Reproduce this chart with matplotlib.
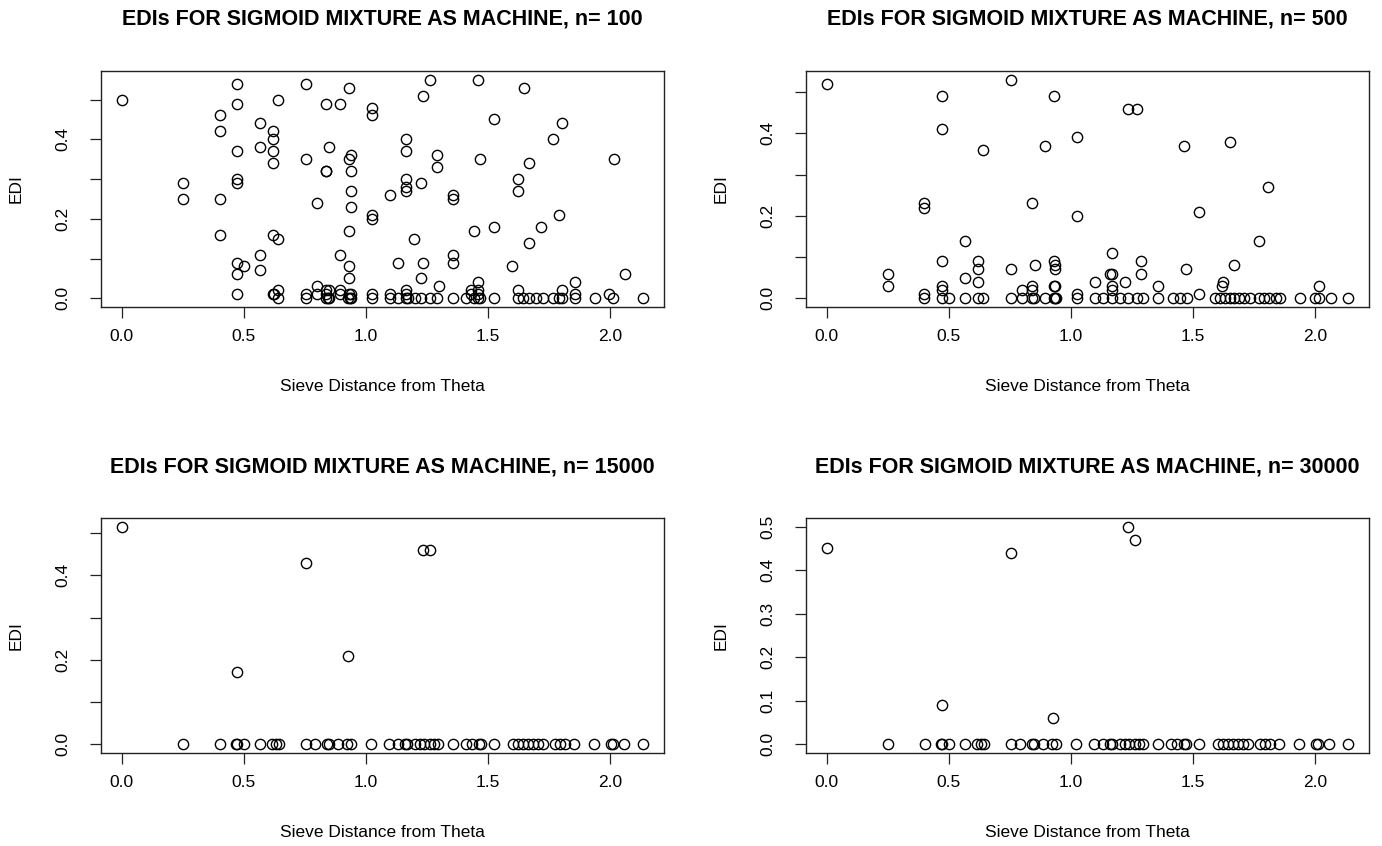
import matplotlib
matplotlib.use("Agg")
import matplotlib.pyplot as plt
import numpy as np

# ---------------- data ----------------
sample_sizes = [100, 500, 15000, 30000]

# n = 100 : points with EDI > 0 (x, y) and points at EDI = 0
x_n100 = [0.0, 0.25, 0.25, 0.40, 0.40, 0.40, 0.40,
          0.47, 0.47, 0.47, 0.47, 0.47, 0.47, 0.47, 0.47, 0.50,
          0.566, 0.566, 0.566, 0.566,
          0.618, 0.618, 0.618, 0.618, 0.618, 0.618, 0.625,
          0.641, 0.641, 0.641, 0.754, 0.754, 0.754, 0.80, 0.80, 0.80,
          0.837, 0.837, 0.837, 0.837, 0.837, 0.85, 0.85,
          0.895, 0.895, 0.895, 0.895,
          0.929, 0.929, 0.929, 0.929, 0.929, 0.929,
          0.94, 0.94, 0.94, 0.94, 0.94,
          1.025, 1.025, 1.025, 1.025, 1.025, 1.097, 1.097, 1.13,
          1.164, 1.164, 1.164, 1.164, 1.164, 1.164, 1.164, 1.198,
          1.225, 1.225, 1.235, 1.235, 1.262, 1.29, 1.29, 1.30,
          1.355, 1.355, 1.357, 1.357, 1.43, 1.43, 1.442,
          1.46, 1.46, 1.46, 1.46, 1.468, 1.525, 1.525, 1.599,
          1.623, 1.623, 1.623, 1.648, 1.668, 1.668, 1.715, 1.767, 1.789,
          1.803, 1.803, 1.857, 1.857, 1.996, 2.015, 2.06]
edi_n100 = [0.50, 0.29, 0.25, 0.46, 0.42, 0.25, 0.16,
            0.54, 0.49, 0.37, 0.30, 0.29, 0.09, 0.06, 0.01, 0.08,
            0.44, 0.38, 0.11, 0.07,
            0.42, 0.40, 0.37, 0.34, 0.16, 0.01, 0.01,
            0.50, 0.15, 0.02, 0.54, 0.35, 0.01, 0.24, 0.03, 0.01,
            0.49, 0.32, 0.32, 0.02, 0.01, 0.38, 0.02,
            0.49, 0.11, 0.02, 0.01,
            0.53, 0.35, 0.17, 0.08, 0.05, 0.01,
            0.36, 0.32, 0.27, 0.23, 0.01,
            0.48, 0.46, 0.21, 0.20, 0.01, 0.26, 0.01, 0.09,
            0.40, 0.37, 0.30, 0.28, 0.27, 0.02, 0.01, 0.15,
            0.29, 0.05, 0.51, 0.09, 0.55, 0.36, 0.33, 0.03,
            0.26, 0.25, 0.11, 0.09, 0.02, 0.01, 0.17,
            0.55, 0.04, 0.02, 0.01, 0.35, 0.45, 0.18, 0.08,
            0.30, 0.27, 0.02, 0.53, 0.34, 0.14, 0.18, 0.40, 0.21,
            0.44, 0.02, 0.04, 0.01, 0.01, 0.35, 0.06]
x0_n100 = [0.641, 0.754, 0.837, 0.845, 0.85, 0.925, 0.935, 0.94, 1.025, 1.098,
           1.13, 1.164, 1.17, 1.20, 1.225, 1.262, 1.29, 1.357, 1.41, 1.442,
           1.46, 1.468, 1.525, 1.623, 1.644, 1.668, 1.698, 1.726, 1.767,
           1.789, 1.803, 1.857, 1.939, 2.012, 2.135]

# n = 500
x_n500 = [0.0, 0.249, 0.249, 0.40, 0.40, 0.40,
          0.473, 0.473, 0.473, 0.473, 0.473, 0.566, 0.566,
          0.619, 0.619, 0.619, 0.641, 0.755, 0.755, 0.80,
          0.839, 0.839, 0.839, 0.851, 0.895,
          0.929, 0.929, 0.935, 0.935, 0.929, 0.935,
          1.025, 1.025, 1.025, 1.097,
          1.167, 1.167, 1.16, 1.167, 1.167, 1.22, 1.235, 1.269,
          1.286, 1.286, 1.355, 1.464, 1.471, 1.526, 1.526,
          1.624, 1.62, 1.65, 1.668, 1.77, 1.807, 2.015]
edi_n500 = [0.52, 0.06, 0.03, 0.23, 0.22, 0.01,
            0.49, 0.41, 0.09, 0.03, 0.02, 0.14, 0.05,
            0.09, 0.07, 0.04, 0.36, 0.53, 0.07, 0.02,
            0.23, 0.03, 0.02, 0.08, 0.37,
            0.49, 0.09, 0.08, 0.07, 0.03, 0.03,
            0.39, 0.20, 0.01, 0.04,
            0.11, 0.06, 0.06, 0.03, 0.02, 0.04, 0.46, 0.46,
            0.09, 0.06, 0.03, 0.37, 0.07, 0.21, 0.01,
            0.04, 0.03, 0.38, 0.08, 0.14, 0.27, 0.03]
x0_n500 = [0.40, 0.473, 0.50, 0.566, 0.619, 0.641, 0.755, 0.80, 0.839, 0.85,
           0.895, 0.929, 0.935, 0.94, 1.025, 1.097, 1.133, 1.167, 1.201, 1.235,
           1.269, 1.297, 1.355, 1.42, 1.447, 1.474, 1.59, 1.61, 1.63, 1.65,
           1.67, 1.69, 1.71, 1.734, 1.77, 1.79, 1.81, 1.84, 1.857, 1.939,
           2.0, 2.015, 2.064, 2.136]

# n = 15000
x_n15000 = [0.0, 0.471, 0.755, 0.928, 1.235, 1.262]
edi_n15000 = [0.515, 0.17, 0.43, 0.21, 0.46, 0.46]

# n = 30000
x_n30000 = [0.0, 0.472, 0.753, 0.927, 1.235, 1.262]
edi_n30000 = [0.45, 0.09, 0.44, 0.06, 0.50, 0.47]

# models with EDI = 0 at large n
x0_large = [0.25, 0.40, 0.467, 0.473, 0.50, 0.567, 0.615, 0.632, 0.645,
            0.753, 0.791, 0.839, 0.85, 0.887, 0.923, 0.939, 1.022, 1.095,
            1.13, 1.16, 1.167, 1.20, 1.22, 1.239, 1.262, 1.278, 1.296, 1.357,
            1.408, 1.433, 1.462, 1.47, 1.524, 1.603, 1.623, 1.644, 1.664,
            1.685, 1.705, 1.726, 1.774, 1.794, 1.815, 1.853, 1.934, 2.003,
            2.012, 2.057, 2.135]

x_ticks = [0.0, 0.5, 1.0, 1.5, 2.0]
y_ticks = [0.0, 0.1, 0.2, 0.3, 0.4, 0.5]

panels = [
    (x_n100 + x0_n100, edi_n100 + [0.0] * len(x0_n100)),
    (x_n500 + x0_n500, edi_n500 + [0.0] * len(x0_n500)),
    (x_n15000 + x0_large, edi_n15000 + [0.0] * len(x0_large)),
    (x_n30000 + x0_large, edi_n30000 + [0.0] * len(x0_large)),
]

# ---------------- figure ----------------
W, H = 1382, 846
plt.rcParams['font.family'] = ['Liberation Sans', 'DejaVu Sans']
fig = plt.figure(figsize=(W / 100, H / 100), dpi=100)

boxes = [(101, 664, 71, 307), (806, 1369, 71, 307),
         (101, 664, 518, 753), (806, 1369, 518, 753)]
title_y = [19, 19, 467, 467]

for i, ((xs, ys), (l, r, t, b)) in enumerate(zip(panels, boxes)):
    ax = fig.add_axes([l / W, 1 - b / H, (r - l) / W, (b - t) / H])
    ax.plot(xs, ys, linestyle='none', marker='o', markersize=7.4,
            markerfacecolor='none', markeredgecolor='black', markeredgewidth=1.0)
    xmin, xmax = min(xs), max(xs)
    ymin, ymax = min(ys), max(ys)
    px = 0.04 * (xmax - xmin)
    py = 0.04 * (ymax - ymin)
    ax.set_xlim(xmin - px, xmax + px)
    ax.set_ylim(ymin - py, ymax + py)
    ax.set_xticks(x_ticks)
    ax.set_xticklabels([f"{v:.1f}" for v in x_ticks])
    ax.set_yticks(y_ticks)
    if i == 3:
        ylabels = [f"{v:.1f}" for v in y_ticks]
    else:
        ylabels = [f"{v:.1f}" if k % 2 == 0 else "" for k, v in enumerate(y_ticks)]
    ax.set_yticklabels(ylabels, rotation=90, va='center')
    ax.tick_params(axis='both', direction='out', length=8, width=0.9,
                   labelsize=12.5, color='#222222')
    ax.tick_params(axis='x', pad=8)
    ax.tick_params(axis='y', pad=14)
    for s in ax.spines.values():
        s.set_linewidth(1.0)
        s.set_color('#222222')
    ax.set_xlabel("Sieve Distance from Theta", fontsize=12.5, va='center')
    ax.xaxis.set_label_coords(0.5, -(79) / (b - t))
    ax.set_ylabel("EDI", fontsize=12.5, va='center')
    ax.yaxis.set_label_coords(-(101 - 16) / (r - l), 0.5)
    fig.text((l + r) / 2 / W, 1 - title_y[i] / H,
             f"EDIs FOR SIGMOID MIXTURE AS MACHINE, n= {sample_sizes[i]}",
             ha='center', va='center', fontsize=15.5, fontweight='bold')

fig.savefig("out.png", dpi=100, facecolor='white')
